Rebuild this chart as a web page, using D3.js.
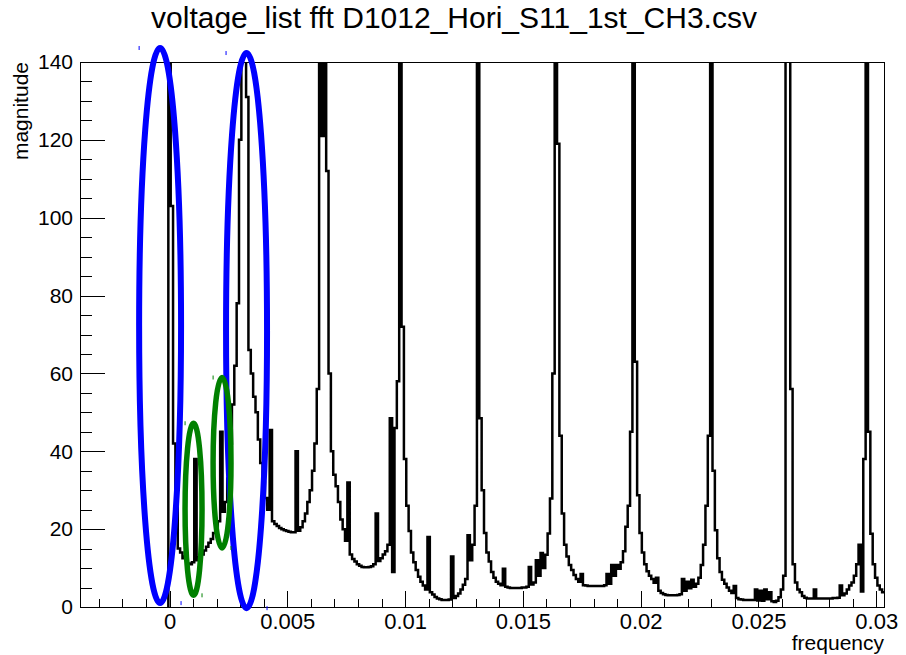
<!DOCTYPE html>
<meta charset="utf-8">
<style>
body {
  margin: 0;
  background: #fff;
  font-family: 'Liberation Sans', Arial, sans-serif;
}

text {
  fill: #000;
  stroke: none;
}

.axis path {
  stroke: none;
}

.axis line {
  stroke: #000;
  stroke-width: 1px;
  shape-rendering: crispEdges;
}

.axis text {
  font-size: 21px;
}

.axis--x text {
  font-size: 22px;
}

.frame {
  fill: none;
  stroke: #000;
  stroke-width: 1px;
  shape-rendering: crispEdges;
}

.hist-line {
  fill: none;
  stroke: #000;
  stroke-width: 2.5px;
}

.title {
  font-size: 30px;
  text-anchor: middle;
}

.axis-title {
  font-size: 21px;
  text-anchor: end;
}
</style>
<body>
<svg width="906" height="655"></svg>
<script src="https://d3js.org/d3.v7.min.js"></script>
<script>
// fft magnitude, one value per bin, bins centred on k * binWidth
var binWidth = 0.0001;

var mag0 = [300, 103, 42, 27, 15, 14, 12.5, 13, 11.2, 11,
  11.5, 38, 12, 12.8, 13.5, 14.5, 15.5, 16.5, 17.5, 19,
  20.5, 22, 45, 24.5, 27, 33, 42, 52, 62, 78,
  120, 300, 300, 131, 66, 60, 54, 50, 43, 37,
  32, 28, 25, 45.5, 22, 21.3, 20.8, 20.3, 20, 19.7];
var mag1 = [19.5, 19.3, 19.2, 19.2, 40, 19.6, 20.5, 22, 24, 27,
  30, 35, 42, 56, 300, 121, 300, 112, 60, 40,
  34, 31, 27, 22.5, 20, 17, 32, 13.5, 12.3, 11.7,
  11, 10.6, 10.3, 10.2, 10.2, 10.3, 10.5, 11, 24, 11.8,
  12.5, 13.5, 14.3, 16, 48.5, 9, 46, 58, 300, 72];
var mag2 = [38, 26, 19.5, 14, 11.5, 9.5, 7.8, 6.5, 5.5, 4.5,
  18, 3.8, 3.2, 2.6, 2.2, 2, 1.8, 1.8, 1.8, 1.9,
  13, 2.3, 2.8, 3.5, 4.5, 5.7, 7.2, 18.4, 12, 16,
  26, 300, 48.5, 30, 19, 14, 11.7, 9, 7.5, 6.5,
  6, 5.6, 9.8, 5.2, 5, 4.9, 4.9, 4.9, 4.9, 4.9];
var mag3 = [5, 5, 5.2, 10.3, 5.8, 6.3, 12, 8, 13.9, 10,
  13.4, 18.9, 27.9, 60, 300, 119, 44, 24, 16, 13,
  10.8, 9.5, 8.2, 7.2, 6.5, 8.5, 5.6, 5.5, 5.4, 5.4,
  5.4, 5.4, 5.4, 5.4, 5.4, 5.6, 8.5, 6, 10.8, 8,
  10.8, 9.8, 11.5, 14.3, 20.6, 26, 45, 300, 63, 28.7];
var mag4 = [19, 14, 11, 9.2, 8, 7.2, 6.2, 7.5, 4.2, 3.6,
  3.3, 3.1, 3, 3, 3, 3, 3.1, 3.3, 7.2, 4.2,
  6.5, 4.8, 7, 5.2, 6, 7.5, 10.8, 16, 26, 44,
  300, 35, 19.7, 12.5, 9, 7, 6, 5, 4.2, 3.6,
  5.4, 2.3, 2, 1.9, 1.8, 1.8, 1.8, 1.8, 1.8, 4.5];
var mag5 = [1.7, 4.2, 1.6, 4.5, 2, 3.8, 1.5, 1.3, 1.6, 2.5,
  4.5, 8, 300, 300, 56, 11, 6.3, 4.5, 3.8, 2.8,
  2.4, 2.2, 2.2, 2.2, 4.5, 2.2, 2.2, 2.2, 2.2, 2.2,
  2.2, 2.2, 2.3, 2.3, 2.4, 5.5, 3, 3.5, 4.5, 5.5,
  6.3, 8, 11, 16, 4, 38, 300, 45, 18.8, 11,
  7.5, 5.5, 4.5, 3.8];

var magnitude = mag0.concat(mag1, mag2, mag3, mag4, mag5);

var yTicks = [0, 20, 40, 60, 80, 100, 120, 140];
var xTicks = [0, 0.005, 0.01, 0.015, 0.02, 0.025, 0.03];
var xTickLabels = ["0", "0.005", "0.01", "0.015", "0.02", "0.025", "0.03"];

// hand drawn ellipses over the plot, in data units
var markFreq = [-0.0004, 0.00327, 0.00102, 0.00223];
var markMag = [72.3, 71.0, 25.1, 37.05];
var markFreqHalf = [0.00089, 0.00087, 0.00036, 0.00038];
var markMagHalf = [71.3, 71.3, 22.1, 21.9];

var svg = d3.select("svg"),
    frame = {left: 80, right: 884, top: 62, bottom: 607};

var x = d3.scaleLinear().domain([-0.0038, 0.03033]).range([frame.left, frame.right]);
var y = d3.scaleLinear().domain([0, 140]).range([frame.bottom, frame.top]);

// title
svg.append("text")
    .attr("class", "title")
    .attr("x", 454)
    .attr("y", 28)
    .text("voltage_list fft D1012_Hori_S11_1st_CH3.csv");

svg.append("clipPath")
    .attr("id", "frame-clip")
  .append("rect")
    .attr("x", frame.left)
    .attr("y", frame.top)
    .attr("width", frame.right - frame.left)
    .attr("height", frame.bottom - frame.top);

// minor ticks first, then major
var minorX = d3.range(-3, 31).map(function(d) { return d / 1000; })
    .filter(function(d) { return Math.round(d * 1000) % 5 !== 0; });
var minorY = d3.range(0, 141, 5).filter(function(d) { return d % 20 !== 0; });

svg.append("g")
    .attr("class", "axis")
    .attr("transform", "translate(0," + frame.bottom + ")")
    .call(d3.axisBottom(x).tickValues(minorX).tickSize(-8).tickFormat(""));

svg.append("g")
    .attr("class", "axis axis--x")
    .attr("transform", "translate(0," + frame.bottom + ")")
    .call(d3.axisBottom(x)
      .tickValues(xTicks)
      .tickSizeInner(-16)
      .tickSizeOuter(0)
      .tickPadding(6)
      .tickFormat(function(d, i) { return xTickLabels[i]; }));

svg.append("g")
    .attr("class", "axis")
    .attr("transform", "translate(" + frame.left + ",0)")
    .call(d3.axisLeft(y).tickValues(minorY).tickSize(-12).tickFormat(""));

svg.append("g")
    .attr("class", "axis axis--y")
    .attr("transform", "translate(" + frame.left + ",0)")
    .call(d3.axisLeft(y)
      .tickValues(yTicks)
      .tickSizeInner(-25)
      .tickSizeOuter(0)
      .tickPadding(7));

// histogram outline
var pts = [[-binWidth / 2, 0]];
magnitude.forEach(function(v, i) {
  var c = i * binWidth;
  pts.push([c - binWidth / 2, v], [c + binWidth / 2, v]);
});

var line = d3.line()
    .x(function(d) { return x(d[0]); })
    .y(function(d) { return y(d[1]); });

svg.append("path")
    .datum(pts)
    .attr("class", "hist-line")
    .attr("clip-path", "url(#frame-clip)")
    .attr("d", line);

svg.append("rect")
    .attr("class", "frame")
    .attr("x", frame.left)
    .attr("y", frame.top)
    .attr("width", frame.right - frame.left)
    .attr("height", frame.bottom - frame.top);

// axis titles
svg.append("text")
    .attr("class", "axis-title")
    .attr("transform", "translate(28," + frame.top + ") rotate(-90)")
    .text("magnitude");

svg.append("text")
    .attr("class", "axis-title")
    .attr("x", frame.right)
    .attr("y", 650)
    .text("frequency");

// ellipses with their little corner handles
var marks = markFreq.map(function(f, i) {
  return {
    cx: x(f), cy: y(markMag[i]),
    rx: x(f + markFreqHalf[i]) - x(f),
    ry: y(markMag[i] - markMagHalf[i]) - y(markMag[i]),
    color: i < 2 ? "#0000ff" : "#008000",
    width: i < 2 ? 6 : 5.5
  };
});

var markG = svg.append("g").attr("class", "marks");

markG.selectAll("ellipse")
    .data(marks)
  .enter().append("ellipse")
    .attr("cx", function(d) { return d.cx; })
    .attr("cy", function(d) { return d.cy; })
    .attr("rx", function(d) { return d.rx; })
    .attr("ry", function(d) { return d.ry; })
    .style("fill", "none")
    .style("stroke", function(d) { return d.color; })
    .style("stroke-width", function(d) { return d.width; });

marks.forEach(function(d) {
  [[d.cx - d.rx, d.cy - d.ry], [d.cx + d.rx, d.cy + d.ry]].forEach(function(p) {
    markG.append("line")
        .attr("x1", p[0]).attr("x2", p[0])
        .attr("y1", p[1] - 2).attr("y2", p[1] + 2)
        .style("stroke", d.color)
        .style("stroke-width", 1);
  });
});
</script>
